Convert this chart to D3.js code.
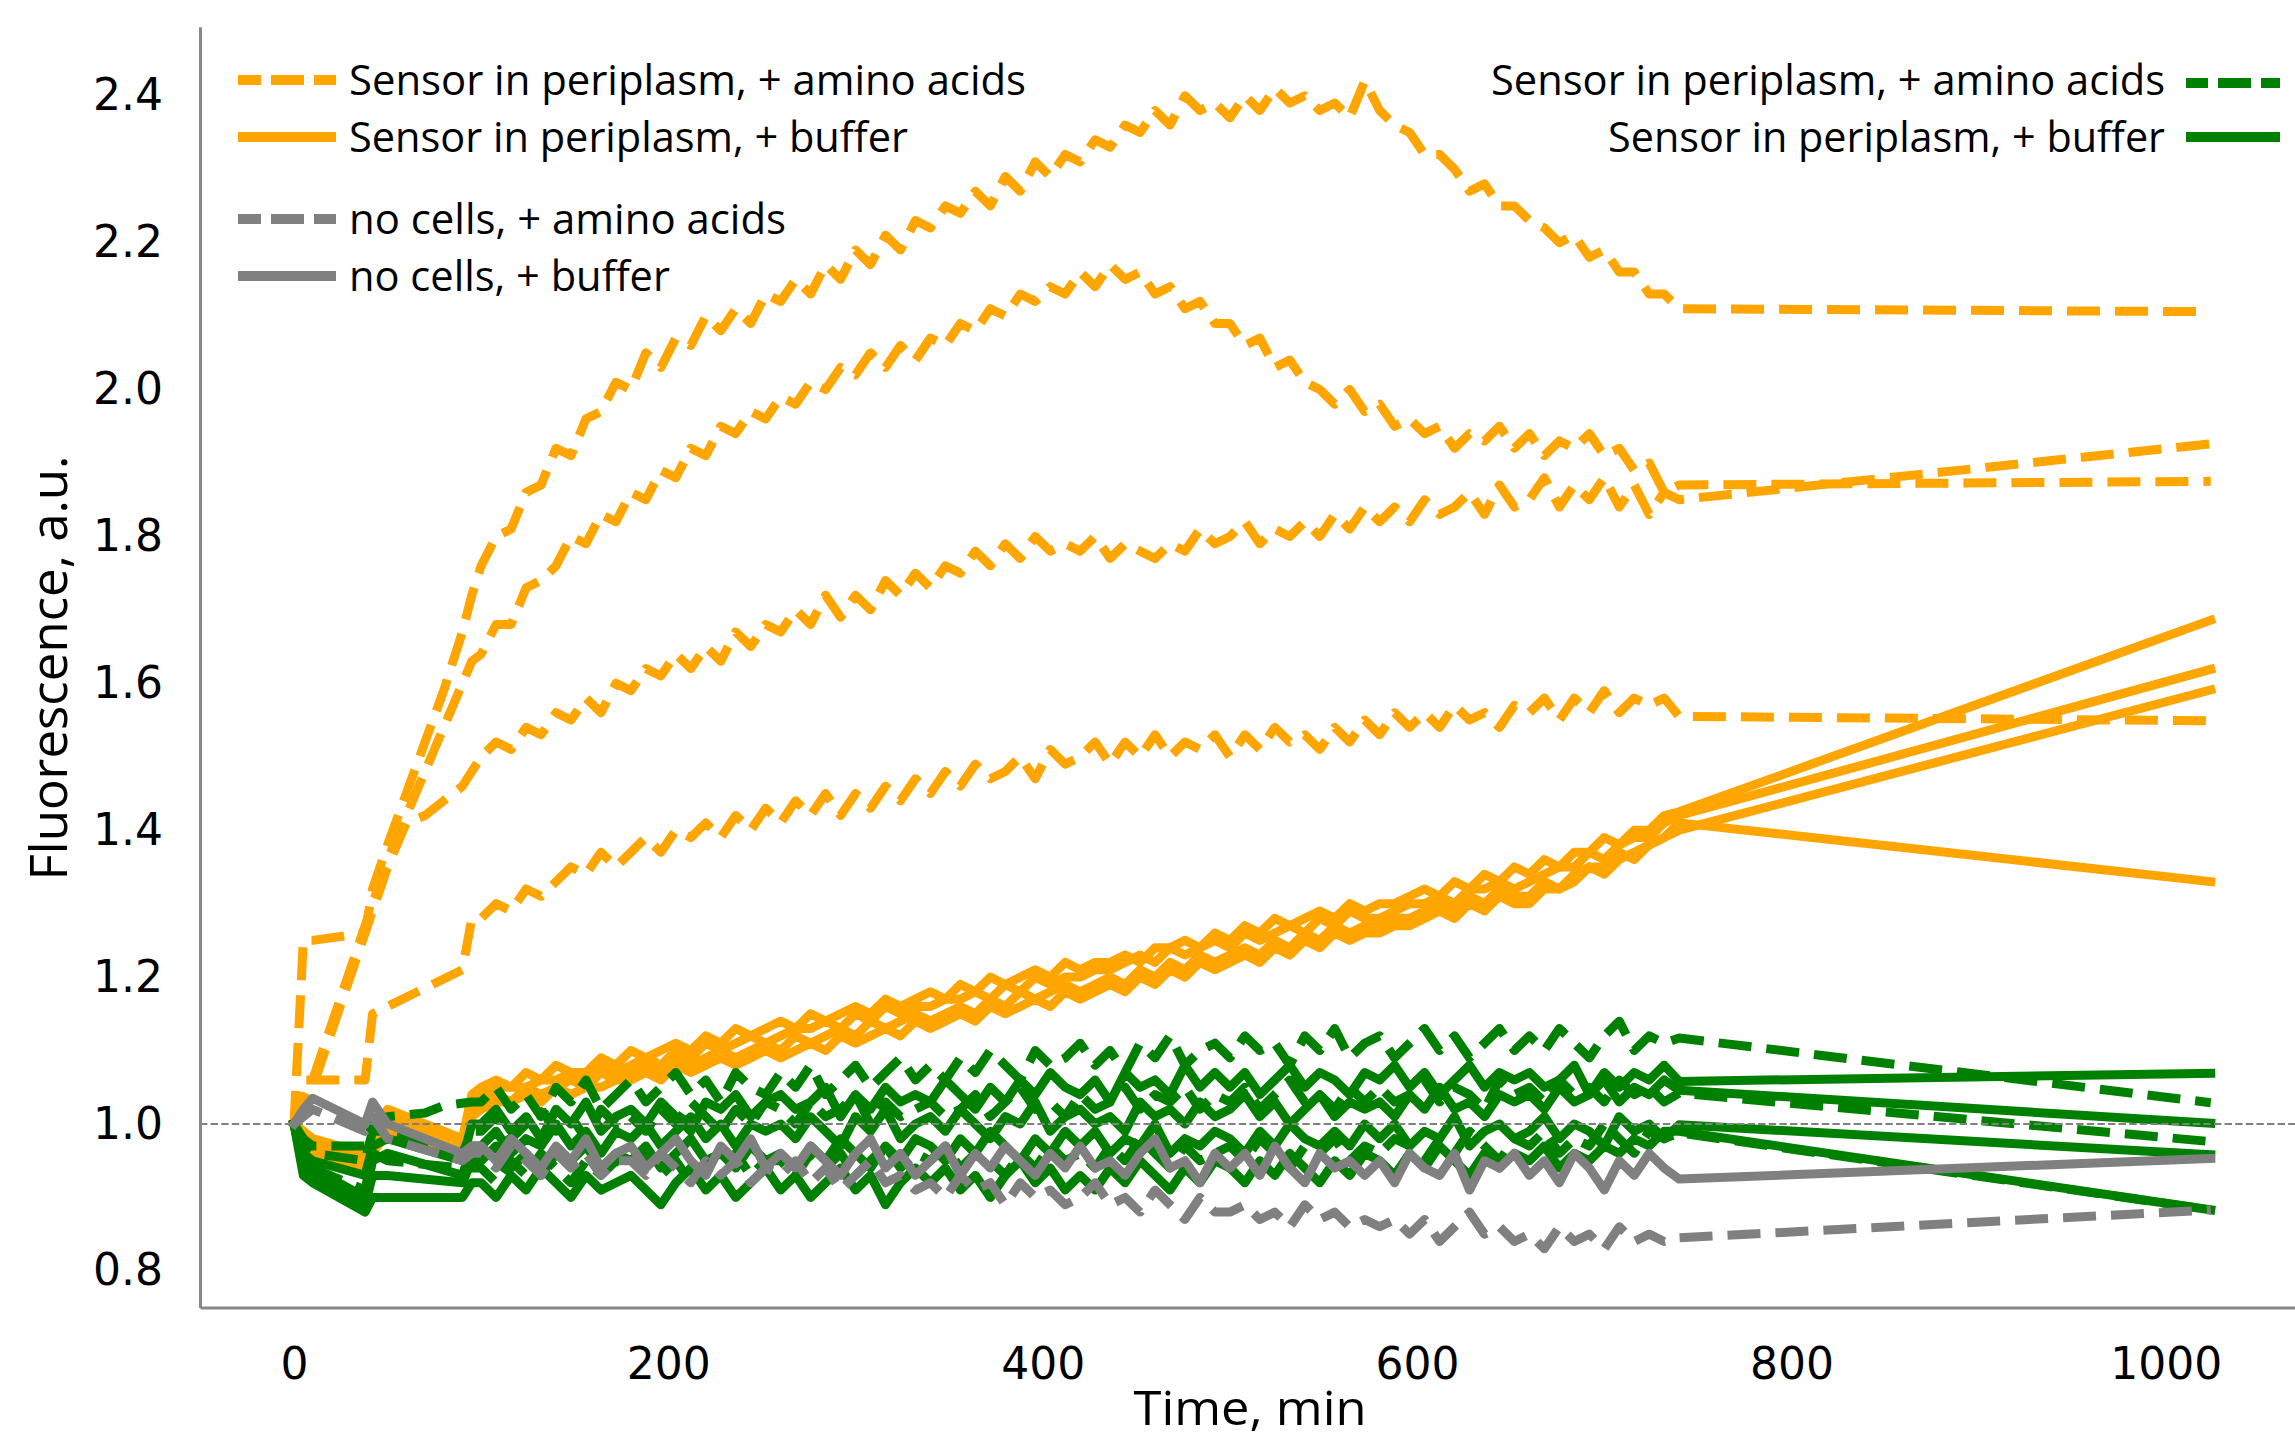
<!DOCTYPE html>
<html><head><meta charset="utf-8">
<script src="https://cdn.jsdelivr.net/npm/d3@7"></script>
<style>html,body{margin:0;padding:0;background:#fff;overflow:hidden}</style>
</head><body><svg id="chart" width="2295" height="1439"></svg>
<script>
// ---------------- DATA ----------------
const timeMin = [0,5,10,38,42,50,60,70,80,90,95,
100,108,116,124,132,140,148,156,164,172,180,188,196,204,212,220,228,236,244,252,260,268,276,284,292,300,308,316,324,332,340,348,356,364,372,380,388,396,404,412,420,428,436,444,452,460,468,476,484,492,500,508,516,524,532,540,548,556,564,572,580,588,596,604,612,620,628,636,644,652,660,668,676,684,692,700,708,716,724,732,740,
1024];

const yTickValues = [0.8,1.0,1.2,1.4,1.6,1.8,2.0,2.2,2.4];
const xTickValues = [0,200,400,600,800,1000];
const legendLeftLabels = ["Sensor in periplasm, + amino acids","Sensor in periplasm, + buffer","no cells, + amino acids","no cells, + buffer"];
const legendRightLabels = ["Sensor in periplasm, + amino acids","Sensor in periplasm, + buffer"];

// Sensor in periplasm, + amino acids (orange, dashed)
const periAA1 = [1.0,1.25,1.25,1.26,1.32,1.38,1.45,1.52,1.59,1.67,1.72,
1.76,1.80,1.81,1.86,1.87, 1.92,1.91,1.96,1.97,2.01, 2.00,2.05,2.03,2.07,2.06, 2.10,2.08,2.11,2.09,2.13,
2.12,2.15,2.13,2.17,2.15, 2.19,2.17,2.21,2.19,2.23, 2.22,2.25,2.24,2.27,2.25, 2.29,2.27,2.31,2.29,2.32,
2.31,2.34,2.33,2.36,2.35, 2.38,2.36,2.40,2.38,2.39, 2.37,2.40,2.38,2.41,2.39, 2.40,2.38,2.39,2.37,2.42,
2.38,2.36,2.35,2.32,2.32, 2.30,2.27,2.28,2.25,2.25, 2.23,2.22,2.20,2.21,2.18, 2.19,2.16,2.16,2.13,2.13,
2.11, 2.106];
const periAA2 = [1.0,1.03,1.06,null,1.30,1.36,1.42,1.48,1.54,1.60,1.63,
1.64,1.68,1.68,1.73,1.74, 1.76,1.80,1.79,1.83,1.82, 1.86,1.85,1.89,1.88,1.92, 1.91,1.95,1.94,1.97,1.96,
1.99,1.98,2.01,2.00,2.03, 2.02,2.05,2.03,2.06,2.04, 2.07,2.06,2.09,2.08,2.11, 2.10,2.13,2.12,2.14,2.13,
2.16,2.14,2.17,2.15,2.16, 2.13,2.14,2.11,2.12,2.09, 2.09,2.06,2.07,2.03,2.04, 2.01,2.00,1.98,2.00,1.97,
1.98,1.95,1.96,1.94,1.95, 1.92,1.94,1.93,1.95,1.92, 1.94,1.91,1.93,1.92,1.94, 1.91,1.92,1.89,1.90,1.86,
1.87, 1.875];
const periAA3 = [1.0,1.02,1.05,null,1.29,1.35,1.41,1.42,1.44,1.46,1.48,
1.50,1.52,1.51,1.54,1.53, 1.56,1.55,1.58,1.56,1.60, 1.59,1.62,1.61,1.64,1.62, 1.65,1.63,1.67,1.65,1.68,
1.67,1.70,1.68,1.72,1.69, 1.72,1.70,1.74,1.72,1.75, 1.73,1.76,1.75,1.78,1.76, 1.79,1.77,1.80,1.78,1.79,
1.78,1.80,1.77,1.79,1.78, 1.77,1.79,1.78,1.81,1.79, 1.80,1.82,1.79,1.81,1.80, 1.82,1.80,1.83,1.81,1.84,
1.82,1.84,1.82,1.85,1.83, 1.84,1.86,1.83,1.87,1.84, 1.85,1.88,1.84,1.87,1.85, 1.88,1.84,1.87,1.83,1.86,
1.85, 1.926];
const periAA4 = [1.0,1.06,1.06,1.06,1.15,1.16,null,null,null,1.21,1.28,
1.28,1.30,1.29,1.32,1.31, 1.33,1.35,1.34,1.37,1.35, 1.37,1.39,1.37,1.40,1.39, 1.41,1.39,1.42,1.40,1.43,
1.41,1.44,1.42,1.45,1.42, 1.45,1.43,1.46,1.44,1.47, 1.45,1.48,1.46,1.49,1.47, 1.48,1.50,1.47,1.51,1.49,
1.50,1.52,1.49,1.52,1.50, 1.53,1.50,1.52,1.51,1.53, 1.50,1.53,1.51,1.54,1.52, 1.53,1.51,1.54,1.52,1.55,
1.53,1.56,1.54,1.56,1.54, 1.57,1.55,1.56,1.54,1.57, 1.56,1.58,1.55,1.58,1.56, 1.59,1.56,1.58,1.57,1.58,
1.555, 1.549];

// Sensor in periplasm, + buffer (orange, solid)
const periBuf1 = [1.0,0.99,0.98,0.96,0.98,1.01,null,null,null,0.98,1.04,
1.05,1.06,1.05,1.07,1.06,1.08,1.07,1.07,1.09,1.08, 1.10,1.09,1.10,1.11,1.10,1.12,1.11,1.13,1.12,1.13,
1.14,1.13,1.15,1.14,1.15,1.16,1.15,1.17,1.16,1.17, 1.18,1.17,1.19,1.18,1.20,1.19,1.20,1.21,1.20,1.22,
1.21,1.22,1.22,1.23,1.22,1.24,1.24,1.25,1.24,1.26, 1.25,1.27,1.26,1.28,1.27,1.28,1.29,1.28,1.30,1.29,
1.30,1.30,1.31,1.32,1.31,1.33,1.32,1.34,1.33,1.35, 1.34,1.36,1.35,1.37,1.37,1.39,1.38,1.40,1.40,1.42,
1.425, 1.686];
const periBuf2 = [1.0,0.98,0.97,0.95,0.97,1.00,null,null,null,0.97,1.03,
1.04,1.05,1.05,1.05,1.06,1.06,1.07,1.06,1.08,1.07, 1.08,1.09,1.08,1.10,1.09,1.11,1.10,1.11,1.12,1.11,
1.12,1.13,1.13,1.14,1.13,1.15,1.14,1.16,1.15,1.16, 1.16,1.17,1.17,1.18,1.17,1.19,1.18,1.20,1.19,1.20,
1.20,1.21,1.21,1.22,1.23,1.22,1.24,1.23,1.24,1.25, 1.24,1.26,1.25,1.26,1.27,1.26,1.28,1.27,1.29,1.28,
1.28,1.29,1.30,1.30,1.31,1.30,1.32,1.32,1.33,1.32, 1.33,1.34,1.35,1.35,1.37,1.36,1.38,1.39,1.39,1.41,
1.42, 1.619];
const periBuf3 = [1.0,0.97,0.96,0.94,0.96,0.99,null,null,null,0.96,1.02,
1.03,1.04,1.03,1.05,1.04,1.05,1.06,1.05,1.07,1.06, 1.07,1.08,1.07,1.09,1.08,1.09,1.10,1.09,1.10,1.11,
1.10,1.12,1.11,1.12,1.13,1.12,1.14,1.13,1.14,1.15, 1.14,1.15,1.16,1.15,1.17,1.16,1.18,1.17,1.18,1.19,
1.18,1.19,1.20,1.19,1.21,1.20,1.22,1.21,1.23,1.22, 1.23,1.24,1.23,1.25,1.24,1.26,1.25,1.27,1.26,1.27,
1.27,1.28,1.28,1.29,1.30,1.29,1.31,1.30,1.32,1.31, 1.31,1.33,1.32,1.34,1.35,1.35,1.37,1.36,1.38,1.39,
1.40, 1.591];
const periBuf4 = [1.0,0.99,0.97,0.95,0.99,1.02,null,null,null,0.98,1.01,
1.02,1.03,1.03,1.04,1.03,1.05,1.04,1.05,1.05,1.06, 1.06,1.07,1.06,1.08,1.07,1.08,1.09,1.08,1.09,1.10,
1.09,1.10,1.11,1.10,1.12,1.11,1.12,1.13,1.12,1.14, 1.13,1.14,1.15,1.14,1.16,1.15,1.16,1.17,1.16,1.18,
1.17,1.18,1.19,1.18,1.20,1.19,1.21,1.20,1.22,1.21, 1.22,1.23,1.22,1.24,1.23,1.25,1.24,1.26,1.25,1.26,
1.26,1.27,1.27,1.28,1.29,1.28,1.30,1.29,1.31,1.30, 1.30,1.32,1.32,1.33,1.35,1.34,1.36,1.37,1.38,1.39,
1.41, 1.33];

// Sensor in periplasm (green), + amino acids (dashed)
const greenAA1 = [1.0,0.98,0.97,0.97,1.0,1.01,null,1.015,1.025,null,1.03,
1.03,1.05,1.02,1.04,1.01,1.05,1.03,1.06,1.02,1.04, 1.06,1.03,1.05,1.07,1.04,1.06,1.03,1.07,1.05,1.04,
1.07,1.05,1.08,1.04,1.06,1.08,1.05,1.07,1.09,1.06, 1.08,1.06,1.09,1.07,1.10,1.08,1.06,1.10,1.08,1.09,
1.11,1.08,1.10,1.07,1.11,1.09,1.12,1.08,1.10,1.11, 1.09,1.12,1.10,1.11,1.08,1.12,1.10,1.13,1.09,1.11,
1.12,1.09,1.11,1.13,1.10,1.12,1.09,1.11,1.13,1.10, 1.12,1.10,1.13,1.11,1.09,1.12,1.14,1.10,1.12,1.11,
1.117, 1.029];
const greenAA2 = [1.0,0.97,0.96,0.95,0.99,0.99,null,null,null,0.96,0.99,
0.99,1.01,0.98,1.00,1.02,0.99,1.01,0.98,1.02,1.00, 1.01,0.99,1.02,1.00,1.03,1.01,0.99,1.02,1.00,1.03,
1.02,1.00,1.03,1.01,1.02,1.04,1.00,1.03,1.01,1.02, 1.03,1.01,1.02,1.04,1.01,1.03,1.05,1.02,1.03,1.01,
1.04,1.02,1.03,1.05,1.02,1.04,1.03,1.05,1.02,1.04, 1.03,1.05,1.02,1.04,1.06,1.03,1.04,1.02,1.05,1.03,
1.05,1.03,1.04,1.06,1.03,1.05,1.04,1.02,1.06,1.04, 1.05,1.03,1.06,1.04,1.05,1.03,1.06,1.04,1.05,1.03,
1.042, 0.976];
const greenAA3 = [1.0,0.95,0.94,0.91,0.96,0.95,null,null,null,0.94,0.94,
0.94,0.92,0.95,0.93,0.96,0.94,0.92,0.95,0.93,0.95, 0.94,0.96,0.93,0.95,0.92,0.95,0.94,0.96,0.93,0.95,
0.95,0.93,0.96,0.94,0.96,0.93,0.95,0.97,0.94,0.96, 0.95,0.97,0.94,0.96,0.95,0.93,0.96,0.94,0.97,0.95,
0.96,0.94,0.97,0.95,0.98,0.96,0.94,0.97,0.95,0.96, 0.97,0.95,0.98,0.96,0.94,0.97,0.96,0.98,0.95,0.97,
0.96,0.98,0.97,0.95,0.98,0.96,0.99,0.97,0.95,0.98, 0.97,0.99,0.96,0.98,0.97,1.00,0.98,0.96,0.99,0.98,
0.988, 0.883];

// Sensor in periplasm (green), + buffer (solid)
const greenBuf1 = [1.0,0.96,0.95,0.93,0.97,0.98,null,null,null,0.95,1.0,
1.00,1.02,0.99,1.01,0.98,1.02,1.00,1.03,0.99,1.01, 1.02,1.00,1.03,1.01,0.99,1.03,1.02,1.04,1.01,1.03,
1.04,1.02,1.03,1.05,1.01,1.04,1.02,1.05,1.03,1.04, 1.03,1.06,1.04,1.02,1.05,1.03,1.06,1.04,1.07,1.05,
1.04,1.06,1.03,1.07,1.05,1.06,1.04,1.08,1.05,1.07, 1.05,1.07,1.04,1.06,1.08,1.05,1.07,1.06,1.04,1.07,
1.06,1.08,1.05,1.07,1.04,1.06,1.08,1.05,1.07,1.06, 1.07,1.05,1.06,1.08,1.04,1.07,1.05,1.07,1.06,1.08,
1.058, 1.069];
const greenBuf2 = [1.0,0.95,0.94,0.90,0.95,0.96,null,null,null,0.93,0.97,
0.97,0.99,0.96,0.98,0.97,1.00,0.97,0.99,0.96,0.99, 0.98,1.00,0.97,0.99,1.01,0.98,1.00,0.97,1.00,0.99,
1.00,0.98,1.01,0.99,0.97,1.01,0.99,1.02,0.98,1.00, 1.01,0.99,1.02,1.00,0.98,1.01,1.00,1.03,0.99,1.01,
1.02,1.00,1.01,0.99,1.03,1.01,1.02,1.00,1.03,1.01, 1.02,1.04,1.01,1.03,1.00,1.02,1.04,1.01,1.03,1.02,
1.03,1.01,1.04,1.02,1.05,1.02,1.03,1.01,1.04,1.03, 1.04,1.02,1.05,1.03,1.04,1.06,1.03,1.05,1.04,1.06,
1.046, 1.001];
const greenBuf3 = [1.0,0.94,0.93,0.89,0.93,0.93,null,null,null,0.92,0.95,
0.95,0.97,0.94,0.96,0.93,0.96,0.95,0.97,0.94,0.96, 0.95,0.97,0.94,0.96,0.98,0.95,0.96,0.94,0.97,0.95,
0.96,0.94,0.97,0.95,0.98,0.96,0.94,0.97,0.95,0.98, 0.97,0.95,0.98,0.96,0.99,0.97,0.95,0.98,0.96,0.99,
0.97,0.99,0.96,0.98,0.97,1.00,0.96,0.98,0.97,0.99, 0.98,0.96,0.99,0.97,1.00,0.98,0.97,0.99,0.97,1.00,
0.98,1.00,0.97,0.99,0.98,1.01,0.97,0.99,1.00,0.98, 0.99,1.01,0.98,1.00,0.99,0.97,1.01,0.99,1.00,0.98,
0.999, 0.958];
const greenBuf4 = [1.0,0.93,0.92,0.88,0.90,0.90,null,null,null,0.90,0.92,
0.92,0.90,0.93,0.91,0.94,0.92,0.90,0.93,0.91,0.92, 0.93,0.91,0.89,0.92,0.94,0.91,0.93,0.90,0.92,0.94,
0.91,0.93,0.90,0.92,0.94,0.91,0.93,0.89,0.92,0.94, 0.92,0.94,0.91,0.93,0.90,0.93,0.95,0.92,0.94,0.91,
0.93,0.91,0.94,0.92,0.95,0.93,0.91,0.94,0.92,0.95, 0.94,0.92,0.95,0.93,0.96,0.94,0.92,0.95,0.93,0.96,
0.95,0.93,0.96,0.94,0.97,0.95,0.93,0.96,0.94,0.96, 0.95,0.97,0.94,0.96,0.95,0.97,0.96,0.98,0.97,0.99,
0.99, 0.883];

// no cells (gray)
const noCellsAA = [1.0,1.01,1.02,0.99,1.01,0.98,null,null,null,0.95,0.96,
0.96,0.94,0.97,0.95,0.93,0.96,0.94,0.96,0.93,0.95, 0.95,0.93,0.96,0.94,0.92,0.95,0.93,0.95,0.92,0.94,
0.93,0.95,0.92,0.94,0.91,0.93,0.95,0.92,0.93,0.91, 0.92,0.90,0.93,0.91,0.92,0.89,0.92,0.90,0.91,0.89,
0.90,0.92,0.89,0.90,0.88,0.91,0.89,0.87,0.90,0.88, 0.88,0.89,0.87,0.88,0.86,0.89,0.87,0.88,0.86,0.87,
0.86,0.87,0.85,0.87,0.84,0.86,0.88,0.85,0.86,0.84, 0.85,0.83,0.86,0.84,0.85,0.83,0.86,0.84,0.85,0.84,
0.845, 0.883];
const noCellsBuf = [1.0,1.02,1.035,1.0,1.03,1.0,null,null,null,0.96,0.97,
0.97,0.95,0.98,0.96,0.94,0.97,0.95,0.98,0.94,0.96, 0.97,0.94,0.96,0.98,0.95,0.93,0.97,0.95,0.98,0.94,
0.96,0.94,0.97,0.95,0.93,0.96,0.98,0.94,0.96,0.93, 0.95,0.97,0.93,0.96,0.94,0.97,0.95,0.93,0.96,0.94,
0.97,0.94,0.95,0.93,0.96,0.98,0.94,0.95,0.92,0.96, 0.94,0.96,0.93,0.97,0.94,0.92,0.96,0.94,0.95,0.93,
0.95,0.92,0.96,0.94,0.93,0.96,0.91,0.95,0.94,0.96, 0.93,0.95,0.92,0.96,0.94,0.91,0.95,0.93,0.96,0.94,
0.925, 0.953];

// ---------------- CHART ----------------
const ORANGE = "#FFA500", GREEN = "#008000", GRAY = "#808080";
const series = [
  {v: periAA1, c: ORANGE, d: true}, {v: periAA2, c: ORANGE, d: true},
  {v: periAA3, c: ORANGE, d: true}, {v: periAA4, c: ORANGE, d: true},
  {v: periBuf1, c: ORANGE, d: false}, {v: periBuf2, c: ORANGE, d: false},
  {v: periBuf3, c: ORANGE, d: false}, {v: periBuf4, c: ORANGE, d: false},
  {v: greenAA1, c: GREEN, d: true}, {v: greenAA2, c: GREEN, d: true}, {v: greenAA3, c: GREEN, d: true},
  {v: greenBuf1, c: GREEN, d: false}, {v: greenBuf2, c: GREEN, d: false},
  {v: greenBuf3, c: GREEN, d: false}, {v: greenBuf4, c: GREEN, d: false},
  {v: noCellsBuf, c: GRAY, d: false}, {v: noCellsAA, c: GRAY, d: true}
];
series.forEach((s,i)=>{ if (s.v.length !== timeMin.length) throw new Error("length mismatch in series "+i+": "+s.v.length); });

const svg = d3.select("#chart");
const x = d3.scaleLinear().domain([-50.2, 1069]).range([200, 2295]);
const y = d3.scaleLinear().domain([0.75, 2.494]).range([1307.6, 26.7]);

const LW = 9;
const line = d3.line().x(d => x(d[0])).y(d => y(d[1]));
const gLines = svg.append("g");
series.forEach(s => {
  const pts = timeMin.map((t,i) => [t, s.v[i]]).filter(p => p[1] !== null);
  gLines.append("path")
    .attr("d", line(pts))
    .attr("fill", "none")
    .attr("stroke", s.c)
    .attr("stroke-width", LW)
    .attr("stroke-linejoin", "round")
    .attr("stroke-linecap", s.d ? "butt" : "square")
    .attr("stroke-dasharray", s.d ? "33,15" : null);
});

// reference line at 1.0
svg.append("line")
  .attr("x1", x.range()[0]).attr("x2", x.range()[1])
  .attr("y1", y(1.0)).attr("y2", y(1.0))
  .attr("stroke", "#808080").attr("stroke-width", 2).attr("stroke-dasharray", "7.4,3.2");

// axes
const yAxis = d3.axisLeft(y).tickValues(yTickValues).tickFormat(d3.format(".1f")).tickSize(0).tickSizeOuter(0).tickPadding(37);
const gy = svg.append("g").attr("transform", "translate(200,0)").call(yAxis);
const xAxis = d3.axisBottom(x).tickValues(xTickValues).tickFormat(d3.format("d")).tickSize(0).tickSizeOuter(0).tickPadding(40);
const gx = svg.append("g").attr("transform", `translate(0,${y(0.75)})`).call(xAxis);
[gx, gy].forEach(g => {
  g.select(".domain").attr("stroke", "#888").attr("stroke-width", 3);
  g.selectAll(".tick text").attr("font-family", "'DejaVu Sans', sans-serif").attr("font-size", 44).attr("fill", "#000");
});

// axis titles
const LABEL_FONT = "'Open Sans', 'Noto Sans', sans-serif";
svg.append("text").attr("transform", "translate(67,668) rotate(-90)")
  .attr("text-anchor", "middle").attr("font-family", LABEL_FONT).attr("font-size", 52)
  .attr("textLength", 425).attr("lengthAdjust", "spacingAndGlyphs")
  .attr("fill", "#000").text("Fluorescence, a.u.");
svg.append("text").attr("x", 1250).attr("y", 1425)
  .attr("text-anchor", "middle").attr("font-family", LABEL_FONT).attr("font-size", 48)
  .attr("textLength", 233).attr("lengthAdjust", "spacingAndGlyphs")
  .attr("fill", "#000").text("Time, min");

// legends
const leftLegend = [
  {label: legendLeftLabels[0], c: ORANGE, d: true,  ly: 80,  ty: 95,  w: 677},
  {label: legendLeftLabels[1], c: ORANGE, d: false, ly: 137, ty: 152, w: 559},
  {label: legendLeftLabels[2], c: GRAY,   d: true,  ly: 219, ty: 234, w: 437},
  {label: legendLeftLabels[3], c: GRAY,   d: false, ly: 276, ty: 291, w: 321}
];
const gLeg = svg.append("g");
leftLegend.forEach(e => {
  gLeg.append("line").attr("x1", 238).attr("x2", 336).attr("y1", e.ly).attr("y2", e.ly)
    .attr("stroke", e.c).attr("stroke-width", 10)
    .attr("stroke-dasharray", e.d ? "33,10" : null).attr("stroke-dashoffset", e.d ? 10 : null);
  gLeg.append("text").attr("x", 349).attr("y", e.ty).attr("font-family", LABEL_FONT).attr("font-size", 42)
    .attr("textLength", e.w).attr("lengthAdjust", "spacingAndGlyphs").attr("fill", "#000").text(e.label);
});
const rightLegend = [
  {label: legendRightLabels[0], c: GREEN, d: true,  ly: 83,  ty: 95,  w: 674},
  {label: legendRightLabels[1], c: GREEN, d: false, ly: 137, ty: 152, w: 557}
];
rightLegend.forEach(e => {
  gLeg.append("line").attr("x1", 2186).attr("x2", 2280).attr("y1", e.ly).attr("y2", e.ly)
    .attr("stroke", e.c).attr("stroke-width", 10)
    .attr("stroke-dasharray", e.d ? "22,10,33,10" : null);
  gLeg.append("text").attr("x", 2165).attr("y", e.ty).attr("text-anchor", "end").attr("font-family", LABEL_FONT).attr("font-size", 42)
    .attr("textLength", e.w).attr("lengthAdjust", "spacingAndGlyphs").attr("fill", "#000").text(e.label);
});
</script>
</body></html>
